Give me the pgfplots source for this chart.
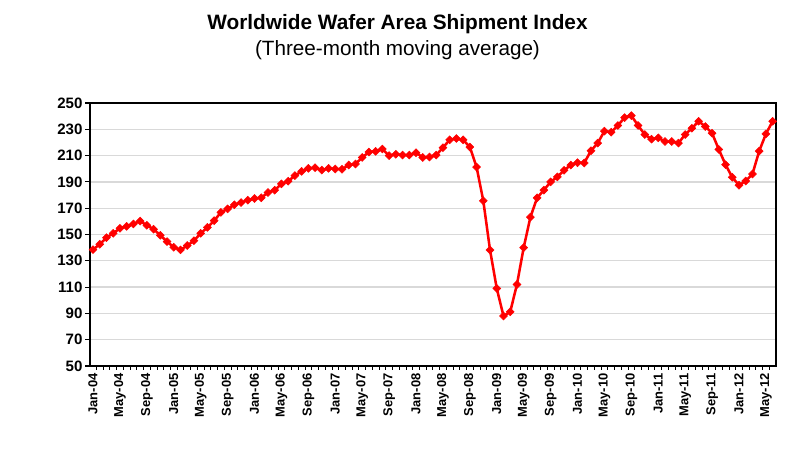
\documentclass[border=0pt]{standalone}
\usepackage{fontspec}
\setmainfont{Liberation Sans}
\usepackage{pgfplots}
\pgfplotsset{compat=1.18}
\definecolor{gridgray}{RGB}{217,217,217}
\definecolor{linered}{RGB}{255,0,0}

% monthly index, Jan-04 = 0
\pgfplotstableread{
m v
0 138.5
1 142.6
2 147.6
3 150.9
4 154.7
5 156.2
6 158.0
7 160.2
8 157.0
9 154.0
10 149.4
11 144.6
12 140.3
13 138.3
14 141.6
15 145.3
16 150.9
17 155.4
18 160.5
19 166.8
20 169.5
21 172.6
22 174.3
23 176.1
24 177.4
25 177.9
26 181.9
27 183.7
28 188.5
29 190.5
30 194.8
31 198.0
32 200.3
33 200.8
34 199.0
35 200.3
36 199.8
37 199.6
38 202.8
39 203.6
40 208.6
41 212.7
42 213.2
43 215.0
44 210.0
45 211.0
46 210.4
47 210.4
48 212.2
49 208.6
50 208.9
51 210.4
52 216.0
53 222.0
54 223.0
55 222.0
56 216.5
57 201.3
58 175.6
59 138.2
60 109.0
61 88.0
62 91.2
63 112.0
64 140.0
65 163.2
66 177.9
67 183.7
68 190.0
69 193.8
70 198.8
71 202.8
72 204.6
73 204.4
74 213.7
75 219.5
76 228.6
77 227.8
78 232.9
79 238.9
80 240.4
81 232.9
82 226.0
83 222.5
84 223.5
85 220.7
86 220.7
87 219.5
88 226.0
89 230.8
90 236.1
91 232.1
92 227.0
93 214.7
94 203.1
95 193.5
96 187.5
97 190.7
98 196.0
99 213.4
100 226.5
101 236.1
}\waferdata

\begin{document}
\begin{tikzpicture}[x=0.75pt,y=0.75pt]
\useasboundingbox (0,0) rectangle (795,459);
\node[anchor=base, inner sep=0pt, font=\fontsize{15.6}{18}\selectfont\bfseries]
  at (397.5,429) {Worldwide Wafer Area Shipment Index};
\node[anchor=base, inner sep=0pt, font=\fontsize{15.5}{18}\selectfont]
  at (397.5,403.5) {(Three-month moving average)};
\begin{axis}[
    at={(67.5pt,69.75pt)}, anchor=south west,
    scale only axis, width=514.5pt, height=197.25pt,
    xmin=-0.45, xmax=101.5,
    ymin=50, ymax=250,
    ytick={50,70,...,250},
    xtick={0,4,...,100},
    xticklabels={Jan-04,May-04,Sep-04,Jan-05,May-05,Sep-05,Jan-06,May-06,Sep-06,
      Jan-07,May-07,Sep-07,Jan-08,May-08,Sep-08,Jan-09,May-09,Sep-09,Jan-10,
      May-10,Sep-10,Jan-11,May-11,Sep-11,Jan-12,May-12},
    minor xtick={0.5,1.5,...,100.5},
    xtick pos=left, ytick pos=left,
    tick align=outside,
    major tick length=3.5pt, minor tick length=3pt,
    major x tick style={draw=none},
    minor x tick style={black, line width=0.6pt},
    ytick style={black, line width=0.8pt},
    ymajorgrids,
    grid style={gridgray, line width=1pt},
    axis line style={black, line width=1.5pt},
    /pgf/number format/assume math mode=true,
    yticklabel style={font=\fontsize{11.3}{13}\selectfont\bfseries, inner sep=2pt},
    xticklabel style={rotate=90, anchor=east, inner sep=2pt,
      font=\fontsize{9.7}{11}\selectfont\bfseries},
    clip=false,
]
\addplot[linered, line width=1.9pt, mark=square*,
  mark options={rotate=45, fill=linered, draw=linered, line width=0.4pt},
  mark size=2.1pt] table[x=m, y=v] {\waferdata};
\end{axis}
\end{tikzpicture}
\end{document}
